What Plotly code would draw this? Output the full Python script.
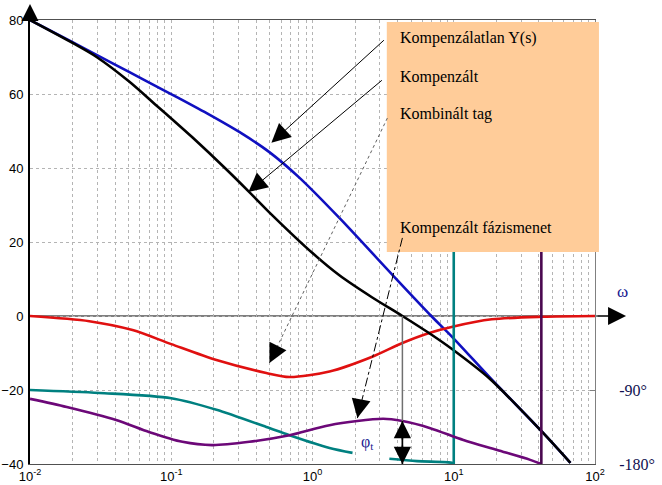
import numpy as np
import plotly.graph_objects as go

# --- magnitude curves (dB) ---
w_blue = [0.01, 0.02, 0.0296, 0.0506, 0.0867, 0.114, 0.186, 0.319, 0.495, 0.807, 1.55, 3.68, 6.93, 9.77, 18.7, 41, 67]
db_blue = [80, 74.0, 70.6, 65.9, 61.2, 58.8, 54.4, 49.2, 44.3, 37.4, 26.5, 11.1, 0, -5.7, -17.3, -30.8, -39.7]

w_black = [0.01, 0.02, 0.0296, 0.0506, 0.0785, 0.1, 0.141, 0.246, 0.357, 0.52, 1.0, 1.55, 2.65, 4.33, 7.05, 9.77, 17.9, 41, 67]
db_black = [80, 73.8, 70.0, 63.3, 56.9, 53.4, 48.3, 39.6, 33.5, 27.2, 17.0, 11.0, 5.0, 0, -5.2, -9.0, -16.9, -30.8, -39.7]

w_red = [0.01, 0.0263, 0.0532, 0.1, 0.209, 0.471, 0.687, 1.32, 2.65, 4.33, 6.71, 9.8, 18.6, 42.4, 100]
db_red = [0, -1.4, -3.8, -7.6, -11.9, -15.4, -16.5, -15.0, -11, -7.3, -4.6, -2.9, -0.9, -0.2, 0]

# --- phase curves (degrees) ---
w_teal_a = [0.01, 0.031, 0.1, 0.209, 0.471, 0.687, 1.32, 1.92]
ph_teal_a = [-90, -93.6, -100, -114, -135, -145, -160.6, -166.5]
w_teal_b = [3.5, 5.5, 9.8, 10]
ph_teal_b = [-173.7, -176.5, -178.6, -180]
w_teal_wrap = [10, 10]
ph_teal_wrap = [-180, 180]

w_purple = [0.01, 0.0182, 0.0407, 0.0702, 0.12, 0.195, 0.357, 0.687, 1.32, 3.16, 4.33, 6.82, 11.7, 20.3, 34.8, 41.7]
ph_purple = [-100.8, -110.7, -126.5, -141.3, -153, -157, -153, -145, -132.8, -125, -127.8, -136.4, -150.8, -163, -175, -180]
w_purple_wrap = [41.7, 41.7]
ph_purple_wrap = [-180, 180]

w_cross = 4.33        # gain crossover of the compensated loop
ph_cross = -127.8     # compensated phase there

decades = [0.01, 0.1, 1, 10, 100]
dec_text = ["10<sup>-2</sup>", "10<sup>-1</sup>", "10<sup>0</sup>", "10<sup>1</sup>", "10<sup>2</sup>"]
grid_x = [m * d for d in decades[:-1] for m in range(1, 10)] + [100]
grid_text = [dec_text[decades.index(v)] if v in decades else "" for v in grid_x]

fig = go.Figure()

def curve(x, y, color, axis="y", shape="spline", width=2.6):
    fig.add_trace(go.Scatter(x=x, y=y, mode="lines", yaxis=axis,
                             line=dict(color=color, width=width, shape=shape, smoothing=0.8),
                             hoverinfo="skip"))

curve(w_teal_a, ph_teal_a, "#008080", "y2")
curve(w_teal_b, ph_teal_b, "#008080", "y2")
curve(w_teal_wrap, ph_teal_wrap, "#008080", "y2", "linear")
curve(w_purple, ph_purple, "#6c0878", "y2")
curve(w_purple_wrap, ph_purple_wrap, "#4a0850", "y2", "linear")
curve(w_blue, db_blue, "#1010c0")
curve(w_red, db_red, "#e01010")
curve(w_black, db_black, "#000000")

serif = "Liberation Serif, Times New Roman, serif"
sans = "Liberation Sans, Arial, sans-serif"

shapes = [
    # zero line / omega axis
    dict(type="line", xref="paper", yref="y", x0=0, x1=1.03, y0=0, y1=0,
         line=dict(color="black", width=1.2), layer="between"),
    # crossover marker
    dict(type="line", xref="x", yref="y", x0=w_cross, x1=w_cross, y0=0, y1=-40,
         line=dict(color="#707070", width=1.5), layer="above"),
    dict(type="line", xref="x", yref="y2", x0=w_cross, x1=w_cross, y0=ph_cross, y1=-180,
         line=dict(color="black", width=1.5), layer="above"),
    # legend box
    dict(type="rect", xref="paper", yref="paper", x0=0.6315, x1=1.007, y0=0.4775, y1=0.9955,
         fillcolor="#FFCC99", line=dict(width=0), layer="above"),
    # dotted / dash-dot pointers
    dict(type="line", xref="x", yref="y", x0=3.39, y0=53.5, x1=0.495, y1=-12.7,
         line=dict(color="#606060", width=1, dash="dot"), layer="above"),
    dict(type="line", xref="x", yref="y", x0=4.33, y0=21.1, x1=2.08, y1=-27.6,
         line=dict(color="black", width=1, dash="dashdot"), layer="above"),
]

def head(x, y, ax, ay, yref="y", width=1, size=3.8, xref="x"):
    return dict(x=x, y=y, xref=xref, yref=yref, ax=ax, ay=ay, text="", showarrow=True,
                arrowhead=2, arrowsize=size, arrowwidth=width, arrowcolor="black")

annotations = [
    head(-0.291, 46.8, 114, -104),
    head(-0.454, 33.5, 135, -113),
    head(-0.305, -12.7, 7, -14),
    head(0.318, -27.6, 3, -15),
    head(np.log10(w_cross), ph_cross, 0, 20, yref="y2", width=1.5, size=2.3),
    head(np.log10(w_cross), -180, 0, -20, yref="y2", width=1.5, size=2.3),
    head(1.055, 0, -30, 0, xref="paper", width=1, size=3.6),
    head(0, 1.036, 0, 18, yref="paper", xref="paper", width=2, size=1.7),
]

labels = [
    ("Kompenzálatlan Y(s)", 0.959),
    ("Kompenzált", 0.872),
    ("Kombinált tag", 0.788),
    ("Kompenzált fázismenet", 0.532),
]
for txt, yp in labels:
    annotations.append(dict(x=0.651, y=yp, xref="paper", yref="paper", text=txt,
                            showarrow=False, xanchor="left", yanchor="middle",
                            font=dict(family=serif, size=16, color="black")))

annotations.append(dict(x=1.062, y=6.5, xref="paper", yref="y", text="ω", showarrow=False,
                        font=dict(family=serif, size=17, color="#1a1a90")))
annotations.append(dict(x=np.log10(2.45), y=-34.3, xref="x", yref="y", text="φ<sub>t</sub>",
                        showarrow=False, font=dict(family=serif, size=16, color="#1a1a90")))

fig.update_layout(
    width=662, height=485,
    margin=dict(l=30, r=67, t=20, b=21),
    plot_bgcolor="white", paper_bgcolor="white",
    showlegend=False,
    shapes=shapes, annotations=annotations,
    xaxis=dict(type="log", range=[-2, 2], tickvals=grid_x, ticktext=grid_text,
               showgrid=True, gridcolor="#b4b4b4", griddash="dot", gridwidth=1,
               showline=True, linecolor="#505050", linewidth=1, mirror=True,
               zeroline=False, ticks="", automargin=False,
               tickfont=dict(family=sans, size=13, color="black")),
    yaxis=dict(range=[-40, 80], tickvals=[-40, -20, 0, 20, 40, 60, 80],
               showgrid=True, gridcolor="#b4b4b4", griddash="dot", gridwidth=1,
               showline=True, linecolor="black", linewidth=2, zeroline=False, ticks="",
               ticklabelstandoff=2, automargin=False,
               tickfont=dict(family=sans, size=13, color="black")),
    yaxis2=dict(overlaying="y", side="right", range=[-180, 360], tickvals=[-180, -90],
                ticktext=["-180°", "-90°"], showgrid=False, zeroline=False,
                showline=True, linecolor="#808080", linewidth=1, automargin=False,
                ticks="inside", ticklen=5, tickcolor="#808080", ticklabelstandoff=20,
                tickfont=dict(family=serif, size=16, color="#101050")),
)

# drop the page's default body margin so the figure sits at the window's corner
fig.write_html("out.html", config={"displayModeBar": False},
               post_script="document.body.style.margin = '0';")
